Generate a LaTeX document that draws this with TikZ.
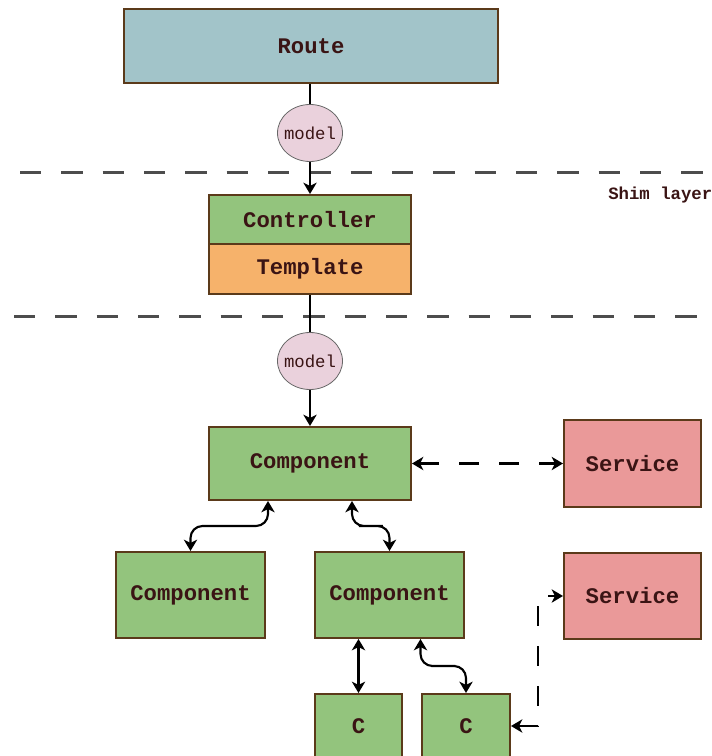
\documentclass[tikz,border=0pt]{standalone}
\usepackage{fontspec}
\setmainfont{Liberation Mono}
\usetikzlibrary{shapes.geometric,arrows.meta,calc}
\definecolor{edge}{HTML}{5B3A1A}
\definecolor{txt}{HTML}{3A1414}
\definecolor{routec}{HTML}{A2C4C9}
\definecolor{greenc}{HTML}{93C47D}
\definecolor{orangec}{HTML}{F6B26B}
\definecolor{pinkc}{HTML}{EA9999}
\definecolor{modelc}{HTML}{EAD1DC}
\definecolor{sepc}{HTML}{4D4D4D}
\tikzset{
  box/.style={draw=edge, line width=1.5pt, text=txt, font=\fontsize{16.7}{18}\selectfont\bfseries, inner sep=0pt},
  routebox/.style={box, fill=routec},
  greenbox/.style={box, fill=greenc},
  orangebox/.style={box, fill=orangec},
  pinkbox/.style={box, fill=pinkc},
  modelnode/.style={ellipse, draw=black!60, line width=0.6pt, fill=modelc, text=txt, font=\fontsize{13}{14}\selectfont, inner xsep=-6pt, inner ysep=-4pt, minimum width=48.75pt, minimum height=42.75pt},
  sep/.style={draw=sepc, line width=2.25pt, dash pattern=on 16pt off 15pt},
  conn/.style={draw=black, line width=1.6pt},
  tip/.style={conn, -{Stealth[length=8.5pt,width=10pt,inset=2.5pt]}},
  bitip/.style={conn, {Stealth[length=8.5pt,width=10pt,inset=2.5pt]}-{Stealth[length=8.5pt,width=10pt,inset=2.5pt]}, rounded corners=9pt},
  dashbi/.style={bitip, dash pattern=on 15pt off 15pt},
  label/.style={text=txt, font=\fontsize{13}{14}\selectfont\bfseries, inner sep=0pt}
}
\begin{document}
\begin{tikzpicture}[x=0.75pt,y=-0.75pt]
\useasboundingbox (0,0) rectangle (712,756);
\clip (0,0) rectangle (712,756);
% separators
\draw[sep] (20,172) -- (712,172);
\draw[sep] (14,316) -- (712,316);
\node[label, anchor=west] (shim) at (608,195) {Shim layer};
% boxes
\node[routebox, minimum width=280.5pt, minimum height=55.5pt] (route) at (311,46) {Route};
\node[modelnode] (m1) at (310,133) {model};
\node[greenbox, minimum width=151.5pt, minimum height=36.75pt] (ctrl) at (310,219.5) {Controller};
\node[orangebox, minimum width=151.5pt, minimum height=37.5pt] (tmpl) at (310,269) {Template};
\node[modelnode] (m2) at (310,361) {model};
\node[greenbox, minimum width=151.5pt, minimum height=54.75pt] (cmain) at (310,463.5) {Component};
\node[pinkbox, minimum width=102.75pt, minimum height=65.25pt] (s1) at (632.5,463.5) {Service};
\node[greenbox, minimum width=111.75pt, minimum height=64.5pt] (cleft) at (190.5,595) {Component};
\node[greenbox, minimum width=111.75pt, minimum height=64.5pt] (cmid) at (389.5,595) {Component};
\node[pinkbox, minimum width=102.75pt, minimum height=64.5pt] (s2) at (632.5,596) {Service};
\node[greenbox, minimum width=65.25pt, minimum height=48pt] (c1) at (358.5,726) {C};
\node[greenbox, minimum width=66pt, minimum height=48pt] (c2) at (466,726) {C};
% connectors
\draw[conn] (route.south -| m1.north) -- (m1);
\draw[tip] (m1) -- (ctrl);
\draw[conn] (tmpl) -- (m2);
\draw[tip] (m2) -- (cmain);
\draw[dashbi, rounded corners=0pt] (cmain) -- (s1);
\coordinate (a1) at ($(cmain.south)+(-42,0)$);
\coordinate (a2) at ($(cmain.south)+(42,0)$);
\draw[bitip] (a1) |- ($(a1)!0.5!(cleft.north)$) -| (cleft.north);
\draw[bitip] (a2) |- ($(a2)!0.5!(cmid.north)$) -| (cmid.north);
\coordinate (b1) at ($(cmid.south)+(31,0)$);
\draw[bitip] (c1.north |- cmid.south) -- (c1.north);
\draw[bitip] (b1) |- ($(b1)!0.5!(c2.north)$) -| (c2.north);
\draw[dashbi, rounded corners=0pt] (c2.east) -- ++(27,0) |- (s2.west);
\end{tikzpicture}
\end{document}
